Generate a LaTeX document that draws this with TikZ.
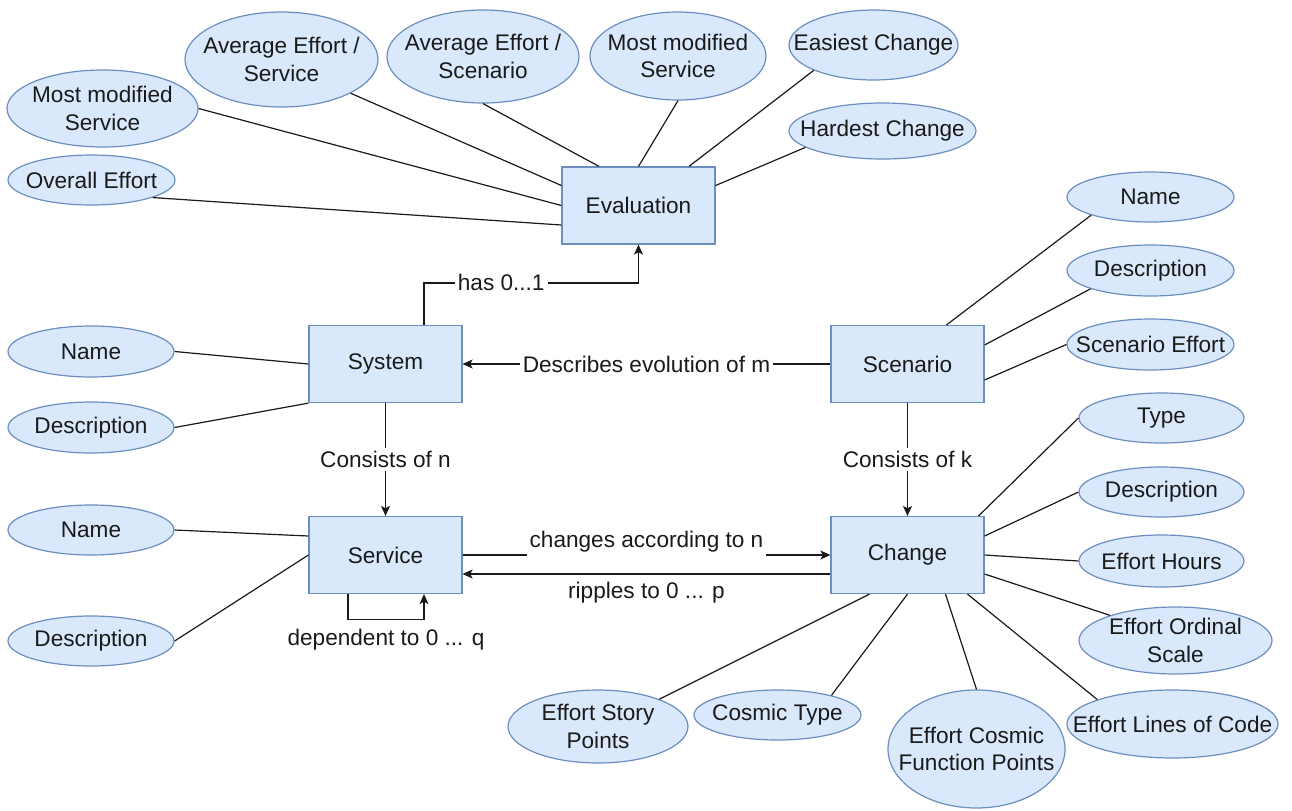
\documentclass[tikz,border=0pt]{standalone}
\usepackage{fontspec}
\setmainfont{Liberation Sans}
\definecolor{entityfill}{RGB}{218,232,252}
\definecolor{entityline}{RGB}{108,142,191}
\definecolor{inkgray}{RGB}{26,26,26}
\usetikzlibrary{arrows.meta,calc,shapes.geometric}

\tikzset{
    entity/.style={draw=entityline, fill=entityfill, line width=0.6pt,
                   minimum width=76.5pt, minimum height=38.5pt, inner sep=0pt},
    attr/.style 2 args={ellipse, draw=entityline, fill=entityfill, line width=0.6pt,
                   minimum width=#1*0.5pt, minimum height=#2*0.5pt,
                   inner xsep=-13pt, inner ysep=0pt, align=center},
    link/.style={draw=inkgray, line width=0.6pt},
    rel/.style={link, -{Stealth[length=5pt, width=4.5pt, inset=1.2pt]}},
    lbl/.style={fill=white, inner sep=1.5pt, text=inkgray},
    note/.style={inner sep=1pt, text=inkgray},
}

\begin{document}
\begin{tikzpicture}[x=0.5pt, y=-0.5pt, font=\fontsize{11.3}{13.6}\selectfont, text=inkgray]
    \fill[white] (0,0) rectangle (1292,810);

    % entities
    \node[entity] (eval) at (638.5,205.5) {Evaluation};
    \node[entity] (sys)  at (385.5,364)   {System};
    \node[entity] (scen) at (907.5,364)   {Scenario};
    \node[entity] (svc)  at (385.5,555)   {Service};
    \node[entity] (chg)  at (907.5,555)   {Change};

    % evaluation attributes
    \node[attr={167}{50}] (ovl)  at (91.5,180)   {Overall Effort};
    \node[attr={191}{77}] (mmsl) at (102.5,108.5) {Most modified\\Service};
    \node[attr={193}{95}] (aesv) at (281.5,59.5)  {Average Effort /\\Service};
    \node[attr={192}{93}] (aesc) at (483,56.5)    {Average Effort /\\Scenario};
    \node[attr={176}{88}] (mmst) at (678,56)      {Most modified\\Service};
    \node[attr={169}{70}] (easy) at (873.5,45)    {Easiest Change};
    \node[attr={187}{56}] (hard) at (882.5,131)   {Hardest Change};

    % system and service attributes
    \node[attr={166}{51}] (sysname) at (91,351.5) {Name};
    \node[attr={166}{51}] (sysdesc) at (91,427.5) {Description};
    \node[attr={166}{50}] (svcname) at (91,530)   {Name};
    \node[attr={166}{50}] (svcdesc) at (91,641)   {Description};

    % scenario attributes
    \node[attr={167}{50}] (scname) at (1150.5,197)   {Name};
    \node[attr={167}{51}] (scdesc) at (1150.5,270.5) {Description};
    \node[attr={167}{51}] (sceff)  at (1150.5,344.5) {Scenario Effort};

    % change attributes
    \node[attr={165}{50}]  (ctype)  at (1161.5,418)   {Type};
    \node[attr={165}{50}]  (cdesc)  at (1161.5,492)   {Description};
    \node[attr={165}{52}]  (chours) at (1161.5,561)   {Effort Hours};
    \node[attr={193}{67}]  (cord)   at (1175.5,640.5) {Effort Ordinal\\Scale};
    \node[attr={211}{68}]  (cloc)   at (1172.5,724)   {Effort Lines of Code};
    \node[attr={177}{118}] (ccfp)   at (976.5,749)    {Effort Cosmic\\Function Points};
    \node[attr={167}{50}]  (cct)    at (777.5,715)    {Cosmic Type};
    \node[attr={180}{73}]  (csp)    at (598,726.5)    {Effort Story\\Points};

    \draw[link] (ovl.-16) -- ($(eval.west)+(0,19.5)$);
    \draw[link] (mmsl.east) -- (eval.west);
    \draw[link] (aesv.-26) -- ($(eval.west)+(0,-20)$);
    \draw[link] (aesc.south) -- ($(eval.north)+(-39.5,0)$);
    \draw[link] (mmst.south) -- (eval.north);
    \draw[link] (easy.-157) -- ($(eval.north)+(50.5,0)$);
    \draw[link] (hard.192) -- ($(eval.east)+(0,-20)$);

    \draw[link] (sysname.east) -- (sys.west);
    \draw[link] (sysdesc.east) -- (sys.south west);
    \draw[link] (svcname.east) -- ($(svc.west)+(0,-19)$);
    \draw[link] (svcdesc.east) -- (svc.west);

    \draw[link] (scname.-163) -- ($(scen.north)+(39,0)$);
    \draw[link] (scdesc.-163) -- ($(scen.east)+(0,-19)$);
    \draw[link] (sceff.west) -- ($(scen.east)+(0,16)$);

    \draw[link] (ctype.west) -- ($(chg.north east)+(-6,0)$);
    \draw[link] (cdesc.west) -- ($(chg.east)+(0,-19)$);
    \draw[link] (chours.west) -- (chg.east);
    \draw[link] (cord.159) -- ($(chg.east)+(0,19)$);
    \draw[link] (cloc.162) -- ($(chg.south)+(60,0)$);
    \draw[link] (ccfp.north) -- ($(chg.south)+(38,0)$);
    \draw[link] (cct.20) -- (chg.south);
    \draw[link] (csp.24) -- ($(chg.south)+(-38,0)$);

    % relations
    \draw[rel] ($(sys.north)+(38.5,0)$) -- ++(0,-42) -| node[lbl, pos=0.18] {has 0...1} (eval.south);
    \draw[rel] (scen.west) -- node[lbl] {Describes evolution of m} (sys.east);
    \draw[rel] (sys.south) -- node[lbl] {Consists of n} (svc.north);
    \draw[rel] (scen.south) -- node[lbl] {Consists of k} (chg.north);
    \draw[rel] (svc.east) -- node[lbl, yshift=6.5pt] {changes according to n} (chg.west);
    \draw[rel] ($(chg.west)+(0,19)$) -- node[note, below=2.75pt] {ripples to 0 ... p} ($(svc.east)+(0,19)$);
    \draw[rel] ($(svc.south)+(-37.5,0)$) -- ++(0,25) -| node[note, pos=0.25, below=3.75pt] {dependent to 0 ... q} ($(svc.south)+(38.5,0)$);
\end{tikzpicture}
\end{document}
